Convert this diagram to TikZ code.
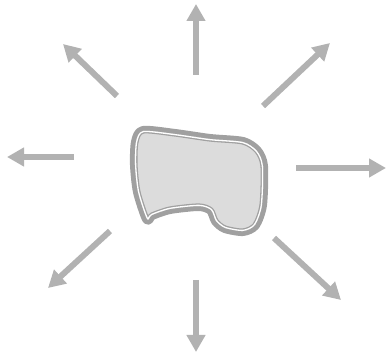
\documentclass[tikz,border=0pt]{standalone}
\usepackage{tikz}
\usetikzlibrary{arrows.meta}
\definecolor{raygray}{HTML}{B2B2B2}
\definecolor{rimgray}{HTML}{A0A0A0}
\definecolor{bodygray}{HTML}{DCDCDC}
\tikzset{
  ray/.style={raygray, line width=6pt, -{Triangle[length=17pt,width=18pt]}},
  rim/.style={rimgray, line width=10pt, line join=round}
}
\newcommand{\blobpath}{plot[smooth cycle, tension=0.45] coordinates {
    (143,131) (175,134) (210,139) (243,142) (257,151) (263,166)
    (262,205) (255,225) (243,231) (225,228) (216,221) (211,210)
    (199,206) (170,209) (152,215) (147,219) (138,192) (135,165) (136,142)}}
\begin{document}
\begin{tikzpicture}[x=1pt, y=-1pt]
    \useasboundingbox (0,0) rectangle (389,355);
    % blob in the middle
    \fill[bodygray] \blobpath;
    \draw[rim] \blobpath;
    \begin{scope}
      \clip \blobpath;
      \fill[bodygray] \blobpath;
      \draw[rimgray, line width=5.2pt] \blobpath;
      \draw[white, line width=2.6pt] \blobpath;
    \end{scope}
    % rays
    \coordinate (nT) at (196,75);   \coordinate (nH) at (196,4);
    \coordinate (neT) at (263,106); \coordinate (neH) at (330,43);
    \coordinate (eT) at (296,168);  \coordinate (eH) at (386,168);
    \coordinate (seT) at (274,238); \coordinate (seH) at (341,300);
    \coordinate (sT) at (196,280);  \coordinate (sH) at (196,352);
    \coordinate (swT) at (110,231); \coordinate (swH) at (48,288);
    \coordinate (wT) at (74,157);   \coordinate (wH) at (7,157);
    \coordinate (nwT) at (117,96);  \coordinate (nwH) at (63,44);
    \foreach \d in {n,ne,e,se,s,sw,w,nw}
      \draw[ray] (\d T) -- (\d H);
\end{tikzpicture}
\end{document}
